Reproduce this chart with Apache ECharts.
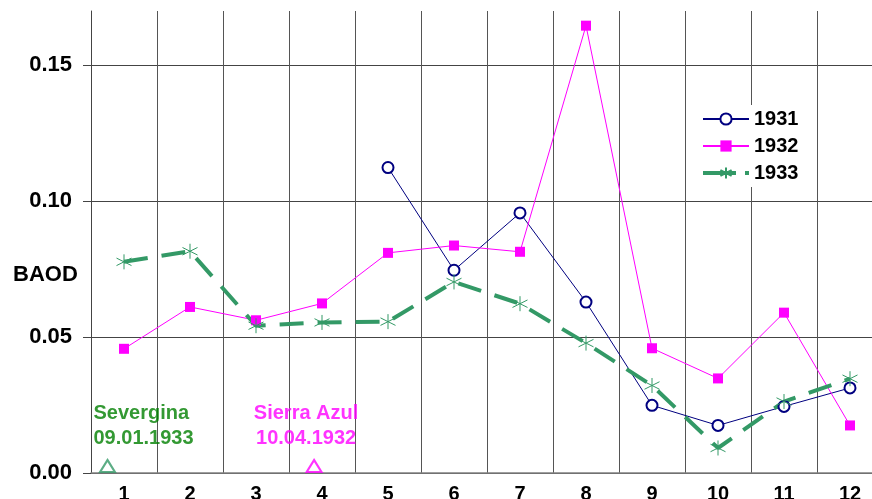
<!DOCTYPE html>
<html><head><meta charset="utf-8">
<script src="https://cdn.jsdelivr.net/npm/echarts@6/dist/echarts.min.js"></script>
<style>html,body{margin:0;padding:0;background:#fff}#c{width:872px;height:499px}</style>
</head><body><div id="c"></div>
<script>
const months = ['1','2','3','4','5','6','7','8','9','10','11','12'];
const s1931 = [null, null, null, null, 0.1124, 0.0746, 0.0957, 0.0629, 0.0249, 0.0175, 0.0245, 0.0313];
const s1932 = [0.0457, 0.0611, 0.0562, 0.0624, 0.0810, 0.0837, 0.0814, 0.1646, 0.0459, 0.0348, 0.0590, 0.0175];
const s1933 = [0.0777, 0.0816, 0.0542, 0.0554, 0.0557, 0.0703, 0.0623, 0.0478, 0.0322, 0.0092, 0.0263, 0.0347];
const yTicks = [0, 0.05, 0.10, 0.15];
const eruptionNames = ['Severgina', 'Sierra Azul'];
const eruptionDates = ['09.01.1933', '10.04.1932'];
const eruptionMonthPos = [0.25, 3.38];
const eruptionBAOD = [0, 0];

const FONT = '"Liberation Sans", Arial, sans-serif';
const GREEN = '#339966';
const asterisk = 'path://M8.66,0L8.66,20M0,5L17.32,15M0,15L17.32,5';

const eruptionStyles = [
  {tri: GREEN, text: '#008000', align: 'left', offset: [-14, 0]},
  {tri: '#FF00FF', text: '#FF00FF', align: 'center', offset: [-8, 0]}
];

const chart = echarts.init(document.getElementById('c'));
chart.setOption({
  animation: false,
  backgroundColor: '#fff',
  grid: {left: 91, top: 11, width: 792, bottom: 26, containLabel: false, outerBoundsMode: 'none'},
  legend: {
    data: [
      {name: '1931'},
      {name: '1932'},
      {name: '1933', lineStyle: {width: 4, type: [33, 9]}}
    ],
    orient: 'vertical',
    left: 693, top: 105,
    padding: [4, 8, 4, 8],
    itemWidth: 46, itemHeight: 14, itemGap: 7,
    backgroundColor: '#fff',
    textStyle: {fontFamily: FONT, fontWeight: 'bold', fontSize: 20, color: '#000'}
  },
  graphic: [{
    type: 'text', left: 13, top: 264,
    style: {text: 'BAOD', font: 'bold 22px ' + FONT, fill: '#000'}
  }],
  xAxis: [{
    type: 'category', data: months, boundaryGap: true,
    axisLine: {show: true, lineStyle: {color: '#808080', width: 1.5}},
    axisTick: {show: false},
    axisLabel: {fontFamily: FONT, fontWeight: 'bold', fontSize: 20, color: '#000', margin: 11, interval: 0},
    splitLine: {show: true, interval: 0, lineStyle: {color: '#555', width: 1}}
  }, {
    type: 'value', min: 0, max: 12, show: false
  }],
  yAxis: {
    type: 'value', min: 0, max: 0.17, interval: 0.05,
    axisLine: {show: true, lineStyle: {color: '#444', width: 1}},
    axisTick: {show: true, length: 8, customValues: yTicks, lineStyle: {color: '#444'}},
    axisLabel: {
      customValues: yTicks,
      fontFamily: FONT, fontWeight: 'bold', fontSize: 22, color: '#000', margin: 19,
      formatter: v => v.toFixed(2)
    },
    splitLine: {show: true, lineStyle: {color: '#444', width: 1}}
  },
  series: [{
    name: '1931', type: 'line', data: s1931,
    symbol: 'emptyCircle', symbolSize: 11,
    itemStyle: {color: '#000080', borderColor: '#000080', borderWidth: 1.3},
    lineStyle: {color: '#000080', width: 1}
  }, {
    name: '1932', type: 'line', data: s1932,
    symbol: 'rect', symbolSize: 10,
    itemStyle: {color: '#FF00FF'},
    lineStyle: {color: '#FF00FF', width: 1}
  }, {
    name: '1933', type: 'line', data: s1933,
    symbol: asterisk, symbolSize: 15,
    itemStyle: {color: GREEN, borderColor: GREEN, borderWidth: 1},
    lineStyle: {color: GREEN, width: 4, type: [24, 14], cap: 'butt'}
  }, {
    name: 'eruptions', type: 'scatter', xAxisIndex: 1,
    symbol: 'emptyTriangle', symbolSize: [15, 12], symbolOffset: [0, -7],
    data: eruptionMonthPos.map((x, i) => ({
      value: [x, eruptionBAOD[i]],
      name: eruptionNames[i] + '\n' + eruptionDates[i],
      itemStyle: {color: eruptionStyles[i].tri, borderWidth: 1.5},
      label: {
        show: true, position: 'top', distance: 8,
        align: eruptionStyles[i].align, offset: eruptionStyles[i].offset,
        formatter: '{b}', color: eruptionStyles[i].text,
        fontFamily: FONT, fontWeight: 'bold', fontSize: 20, lineHeight: 25
      }
    }))
  }]
});
</script></body></html>
